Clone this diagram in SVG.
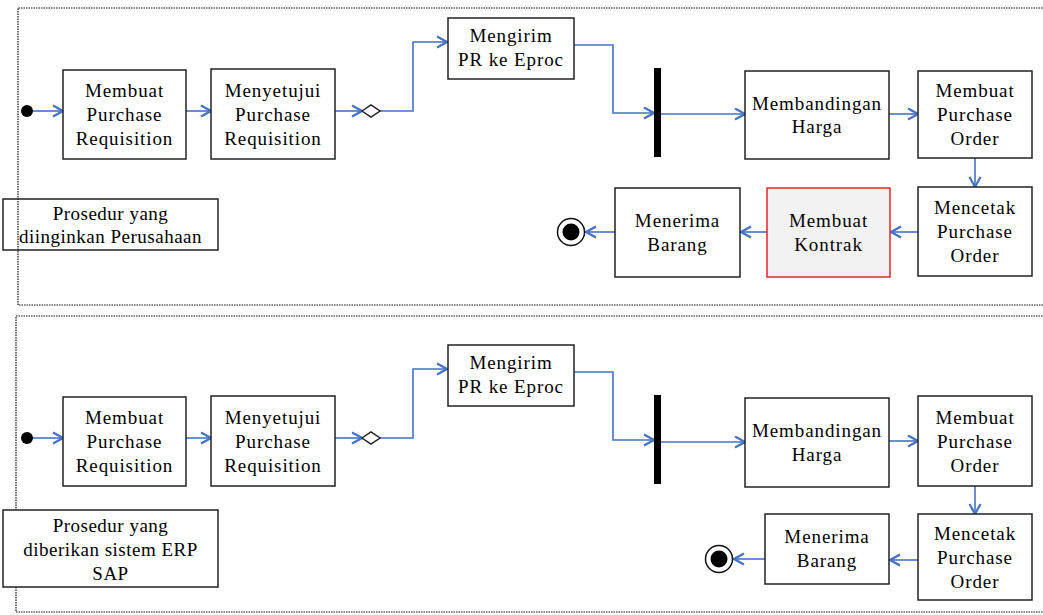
<svg xmlns="http://www.w3.org/2000/svg" width="1043" height="615" viewBox="0 0 1043 615">
<defs>
<style>
.box{fill:#fff;stroke:#222;stroke-width:1.5}
.red{fill:#f2f2f2;stroke:#e8262a;stroke-width:1.5}
.lbl{fill:none;stroke:#222;stroke-width:1.5}
.lblw{fill:#fff;stroke:#222;stroke-width:1.5}
.t{font-family:"Liberation Serif","Times New Roman",serif;font-size:19px;letter-spacing:0.9px;fill:#000;text-anchor:middle}
.tl{font-family:"Liberation Serif","Times New Roman",serif;font-size:19px;letter-spacing:0.5px;fill:#000;text-anchor:middle}
.c{fill:none;stroke:#4472C4;stroke-width:1.6;marker-end:url(#ah)}
.dot{fill:none;stroke:#111;stroke-width:1.2;stroke-dasharray:1.5 1}
.bar{fill:#000}
.dia{fill:#fff;stroke:#222;stroke-width:1.5}
</style>
<marker id="ah" markerUnits="userSpaceOnUse" markerWidth="14" markerHeight="14" viewBox="0 0 14 14" refX="12" refY="7" orient="auto">
<path d="M2,1.5 L12,7 L2,12.5" fill="none" stroke="#4472C4" stroke-width="2.2"/>
</marker>
</defs>

<g id="panels">
<path class="dot" d="M1050,8 H18 V305 H1050"/>
<path class="dot" d="M1050,316 H16 V612 H1050"/>
</g>

<g id="connectors">
<path class="c" d="M33,111 H63"/>
<path class="c" d="M186,111 H211"/>
<path class="c" d="M335,111 H362"/>
<path class="c" d="M380,111 H413 V42 H447"/>
<path class="c" d="M574,45 H613 V113 H654"/>
<path class="c" d="M661,114 H745"/>
<path class="c" d="M889,114 H918"/>
<path class="c" d="M975,158 V187"/>
<path class="c" d="M918,232 H891"/>
<path class="c" d="M767,232 H741"/>
<path class="c" d="M615,232 H586"/>

<path class="c" d="M33,438 H63"/>
<path class="c" d="M186,438 H211"/>
<path class="c" d="M335,438 H362"/>
<path class="c" d="M380,438 H413 V369 H447"/>
<path class="c" d="M574,372 H613 V440 H654"/>
<path class="c" d="M661,442 H745"/>
<path class="c" d="M889,441 H918"/>
<path class="c" d="M975,486 V514"/>
<path class="c" d="M918,560 H890"/>
<path class="c" d="M765,559 H734"/>
</g>

<g id="top-start"><circle cx="27" cy="111" r="6" fill="#000"/></g>
<g id="top-membuat-pr"><rect class="box" x="63" y="70" width="123" height="89"/>
<text class="t" x="124.5" y="97">Membuat</text><text class="t" x="124.5" y="121">Purchase</text><text class="t" x="124.5" y="145">Requisition</text></g>
<g id="top-menyetujui-pr"><rect class="box" x="211" y="69" width="124" height="90"/>
<text class="t" x="273" y="97">Menyetujui</text><text class="t" x="273" y="121">Purchase</text><text class="t" x="273" y="145">Requisition</text></g>
<g id="top-decision"><polygon class="dia" points="362,111 371,105 380,111 371,117"/></g>
<g id="top-mengirim"><rect class="box" x="448" y="18" width="126" height="61"/>
<text class="t" x="511" y="42">Mengirim</text><text class="t" x="511" y="66">PR ke Eproc</text></g>
<g id="top-fork"><rect class="bar" x="654" y="68" width="7" height="89"/></g>
<g id="top-membandingan"><rect class="box" x="745" y="71" width="144" height="88"/>
<text class="t" x="817" y="110">Membandingan</text><text class="t" x="817" y="133">Harga</text></g>
<g id="top-membuat-po"><rect class="box" x="918" y="71" width="114" height="87"/>
<text class="t" x="975" y="97">Membuat</text><text class="t" x="975" y="121">Purchase</text><text class="t" x="975" y="145">Order</text></g>
<g id="top-mencetak-po"><rect class="box" x="918" y="187" width="114" height="89"/>
<text class="t" x="975" y="214">Mencetak</text><text class="t" x="975" y="238">Purchase</text><text class="t" x="975" y="262">Order</text></g>
<g id="top-kontrak"><rect class="red" x="767" y="188" width="123" height="89"/>
<text class="t" x="828.5" y="227">Membuat</text><text class="t" x="828.5" y="251">Kontrak</text></g>
<g id="top-menerima"><rect class="box" x="615" y="188" width="125" height="89"/>
<text class="t" x="677.5" y="227">Menerima</text><text class="t" x="677.5" y="251">Barang</text></g>
<g id="top-end"><circle cx="571" cy="232" r="13.5" fill="#fff" stroke="#111" stroke-width="1.5"/><circle cx="571" cy="232" r="8.5" fill="#000"/></g>
<g id="top-label"><rect class="lbl" x="3" y="199" width="215" height="51"/>
<text class="tl" x="110.5" y="220">Prosedur yang</text><text class="tl" x="110.5" y="243">diinginkan Perusahaan</text></g>

<g id="bot-start"><circle cx="27" cy="438" r="6" fill="#000"/></g>
<g id="bot-membuat-pr"><rect class="box" x="63" y="397" width="123" height="89"/>
<text class="t" x="124.5" y="424">Membuat</text><text class="t" x="124.5" y="448">Purchase</text><text class="t" x="124.5" y="472">Requisition</text></g>
<g id="bot-menyetujui-pr"><rect class="box" x="211" y="396" width="124" height="90"/>
<text class="t" x="273" y="424">Menyetujui</text><text class="t" x="273" y="448">Purchase</text><text class="t" x="273" y="472">Requisition</text></g>
<g id="bot-decision"><polygon class="dia" points="362,438 371,432 380,438 371,444"/></g>
<g id="bot-mengirim"><rect class="box" x="448" y="345" width="126" height="61"/>
<text class="t" x="511" y="369">Mengirim</text><text class="t" x="511" y="393">PR ke Eproc</text></g>
<g id="bot-fork"><rect class="bar" x="654" y="395" width="7" height="89"/></g>
<g id="bot-membandingan"><rect class="box" x="745" y="398" width="144" height="89"/>
<text class="t" x="817" y="437">Membandingan</text><text class="t" x="817" y="461">Harga</text></g>
<g id="bot-membuat-po"><rect class="box" x="918" y="396" width="114" height="90"/>
<text class="t" x="975" y="424">Membuat</text><text class="t" x="975" y="448">Purchase</text><text class="t" x="975" y="472">Order</text></g>
<g id="bot-mencetak-po"><rect class="box" x="918" y="514" width="114" height="86"/>
<text class="t" x="975" y="540">Mencetak</text><text class="t" x="975" y="564">Purchase</text><text class="t" x="975" y="588">Order</text></g>
<g id="bot-menerima"><rect class="box" x="765" y="514" width="124" height="70"/>
<text class="t" x="827" y="543">Menerima</text><text class="t" x="827" y="567">Barang</text></g>
<g id="bot-end"><circle cx="719" cy="559" r="13.5" fill="#fff" stroke="#111" stroke-width="1.5"/><circle cx="719" cy="559" r="8.5" fill="#000"/></g>
<g id="bot-label"><rect class="lblw" x="3" y="510" width="215" height="77"/>
<text class="tl" x="110.5" y="532">Prosedur yang</text><text class="tl" x="110.5" y="556">diberikan sistem ERP</text><text class="tl" x="110.5" y="580">SAP</text></g>
</svg>
